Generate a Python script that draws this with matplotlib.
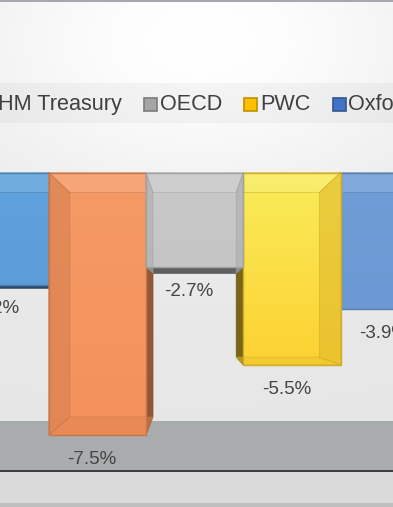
import matplotlib
matplotlib.use("Agg")
import matplotlib.pyplot as plt
import numpy as np
from matplotlib.patches import Polygon, Rectangle
from matplotlib import colors as mcolors

plt.rcParams['font.family'] = ['Liberation Sans', 'DejaVu Sans']

# ---- data ----
series = ["NIESR", "HM Treasury", "OECD", "PWC", "Oxford Economics"]
values = [-3.2, -7.5, -2.7, -5.5, -3.9]
value_labels = ["-3.2%", "-7.5%", "-2.7%", "-5.5%", "-3.9%"]
bar_top_colors = ["#5FA2DC", "#F59A66", "#C8C9C8", "#F9EC5A", "#719DD7"]
bar_colors = ["#5B9DD8", "#F4915A", "#C4C5C4", "#FDD232", "#6C98D3"]
legend_colors = ["#5B9BD5", "#ED7D31", "#A5A5A5", "#FFC000", "#4472C4"]

W, H = 393, 507
fig = plt.figure(figsize=(W / 100, H / 100), dpi=100)

# ---- background (pixel coordinates) ----
bg = fig.add_axes([0, 0, 1, 1], zorder=0)
bg.set_xlim(0, W)
bg.set_ylim(H, 0)
bg.axis('off')
yy = np.arange(H)[:, None]
xx = np.arange(W)[None, :]
v = 0.905 + 0.095 * np.exp(-((xx - 200) / 260.0) ** 2 - ((yy - 40) / 170.0) ** 2)
img = np.dstack([v, v, v])
bg.imshow(img, extent=(0, W, H, 0), aspect='auto', interpolation='bilinear')
bg.add_patch(Rectangle((0, 83), W, 40, facecolor='black', alpha=0.035, lw=0))
bg.add_patch(Rectangle((0, 421), W, 49, facecolor='#a9acad', lw=0))
bg.add_patch(Rectangle((0, 470), W, 2.2, facecolor='#3e3f40', lw=0))
bg.add_patch(Rectangle((0, 472.2), W, 31, facecolor='#dadada', lw=0))
bg.add_patch(Rectangle((0, 503), W, 4, facecolor='#bfbfbf', lw=0))
bg.add_patch(Rectangle((0, 0), W, 1.6, facecolor='#a7a7af', lw=0))

# ---- bars ----
ax = fig.add_axes([0, 0, 1, 1], zorder=1)
ax.patch.set_alpha(0)
ax.axis('off')
SX = 97.3   # px per category
SY = 35.0   # px per percent
Y0 = 172.5  # px of zero line
ax.set_xlim(0, W / SX)
ax.set_ylim(-(H - Y0) / SY, Y0 / SY)

xs = np.arange(len(values))
bw = 1.0
vp = np.array([2.0, -3.95])
s = 0.855


def shade(c, f):
    r = np.array(mcolors.to_rgb(c))
    if f >= 1:
        r = r + (1 - r) * (f - 1) * 3
    else:
        r = r * f
    return tuple(np.clip(r, 0, 1))


order = [-abs(i - 2) for i in xs]
bars = ax.bar(xs, values, width=bw, color=bar_colors, lw=0)
for i, (p, x, val, col, tcol) in enumerate(zip(bars, xs, values, bar_colors, bar_top_colors)):
    z = 10 + order[i] * 2
    p.set_zorder(z)
    cmap = mcolors.LinearSegmentedColormap.from_list('g', [col, tcol])
    grad = np.linspace(0, 1, 64)[:, None]
    im = ax.imshow(grad, cmap=cmap, extent=(x - bw / 2, x + bw / 2, val, 0),
                   origin='lower', aspect='auto', zorder=z + 0.05, interpolation='bilinear')
    im.set_clip_path(p)

    x0, x1 = x - bw / 2, x + bw / 2
    F = np.array([[x0, 0], [x1, 0], [x1, val], [x0, val]])
    B = vp + s * (F - vp)
    edge = shade(col, 0.82)
    walls = {
        'top': ([F[0], F[1], B[1], B[0]], B[0][1] < F[0][1]),
        'bottom': ([F[2], F[3], B[3], B[2]], B[2][1] > F[2][1]),
        'left': ([F[0], F[3], B[3], B[0]], B[0][0] > F[0][0]),
        'right': ([F[1], F[2], B[2], B[1]], B[1][0] < F[1][0]),
    }
    for name, (pts, interior) in walls.items():
        pts = np.array(pts)
        if interior:
            if name == 'top':
                fc, a = 'white', 0.12
            elif name == 'bottom':
                fc, a = shade(col, 0.92), 0.5
            else:
                fc, a = shade(col, 0.88), 0.6
            ax.add_patch(Polygon(pts, closed=True, facecolor=fc, alpha=a, lw=0,
                                 zorder=z + 0.1))
            ax.add_patch(Polygon(pts, closed=True, facecolor='none',
                                 edgecolor=edge, alpha=0.6, lw=0.6, zorder=z + 0.12))
        else:
            f = 0.48 if name in ('bottom', 'left') else 0.6
            ax.add_patch(Polygon(pts, closed=True, facecolor=shade(col, f),
                                 edgecolor=shade(col, f * 0.9), lw=0.5, zorder=z - 0.1))
    ax.add_patch(Rectangle((x0, val), bw, -val, facecolor='none', edgecolor=edge,
                           lw=1.0, zorder=z + 0.2))

for x, val, lab in zip(xs, values, value_labels):
    ax.annotate(lab, (x, val), xytext=(-4, -17.5), textcoords='offset points',
                ha='center', va='center', fontsize=13.5, color='#454545', zorder=50)

# ---- legend (manual, pixel coordinates on background axes) ----
fig.canvas.draw()
renderer = fig.canvas.get_renderer()
leg_y = 104
fs = 15.6
cur = -2.0  # left edge of the first visible legend text
for j in range(1, len(series)):
    sq_x = cur - 16
    bg.add_patch(Rectangle((sq_x, leg_y - 6.5), 13, 13, facecolor=legend_colors[j],
                           edgecolor=shade(legend_colors[j], 0.75), lw=1.2, zorder=5))
    t = bg.text(cur, leg_y + 0.5, series[j], ha='left', va='center', fontsize=fs,
                color='#404040', zorder=5)
    bb = t.get_window_extent(renderer)
    cur = bb.x1 + 22 + 16

fig.savefig("out.png", dpi=100)
